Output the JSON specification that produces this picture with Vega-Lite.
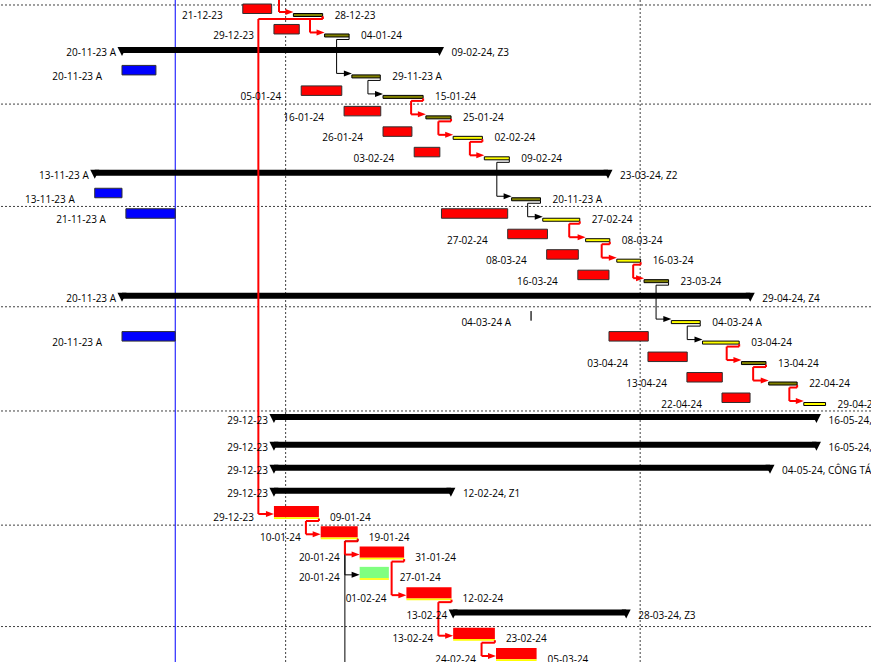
{
  "$schema": "https://vega.github.io/schema/vega-lite/v6.json",
  "width": 871,
  "height": 662,
  "padding": 0,
  "autosize": {"type": "none"},
  "background": "#ffffff",
  "config": {
    "view": {"stroke": null},
    "text": {"font": "Open Sans", "fontSize": 10, "baseline": "middle", "color": "#000000", "dy": 1.5}
  },
  "resolve": {"scale": {"color": "independent"}},
  "datasets": {
    "bl": [
      {"row": 0, "s": "2023-12-21", "e": "2023-12-28T10:00:00Z", "c": "late", "lab": "21-12-23"},
      {"row": 1, "s": "2023-12-29", "e": "2024-01-04T12:00:00Z", "c": "late", "lab": "29-12-23"},
      {"row": 3, "s": "2023-11-20", "e": "2023-11-28T17:00:00Z", "c": "actual", "lab": "20-11-23 A"},
      {"row": 4, "s": "2024-01-05", "e": "2024-01-15T10:00:00Z", "c": "late", "lab": "05-01-24"},
      {"row": 5, "s": "2024-01-16", "e": "2024-01-25T10:00:00Z", "c": "late", "lab": "16-01-24"},
      {"row": 6, "s": "2024-01-26", "e": "2024-02-02T10:00:00Z", "c": "late", "lab": "26-01-24"},
      {"row": 7, "s": "2024-02-03", "e": "2024-02-09T14:00:00Z", "c": "late", "lab": "03-02-24"},
      {"row": 9, "s": "2023-11-13", "e": "2023-11-20", "c": "actual", "lab": "13-11-23 A"},
      {"row": 10, "s": "2023-11-21", "e": "2023-12-03T16:00:00Z", "c": "actual", "lab": "21-11-23 A"},
      {"row": 10, "s": "2024-02-10", "e": "2024-02-27", "c": "late"},
      {"row": 11, "s": "2024-02-27", "e": "2024-03-08T05:00:00Z", "c": "late", "lab": "27-02-24"},
      {"row": 12, "s": "2024-03-08", "e": "2024-03-16T03:00:00Z", "c": "late", "lab": "08-03-24"},
      {"row": 13, "s": "2024-03-16", "e": "2024-03-24", "c": "late", "lab": "16-03-24"},
      {"row": 15, "s": "2024-03-04", "e": "2024-03-04", "c": "actual", "lab": "04-03-24 A"},
      {"row": 16, "s": "2023-11-20", "e": "2023-12-03T16:00:00Z", "c": "actual", "lab": "20-11-23 A"},
      {"row": 16, "s": "2024-03-24", "e": "2024-04-03T02:00:00Z", "c": "late"},
      {"row": 17, "s": "2024-04-03", "e": "2024-04-13T02:00:00Z", "c": "late", "lab": "03-04-24"},
      {"row": 18, "s": "2024-04-13", "e": "2024-04-22T02:00:00Z", "c": "late", "lab": "13-04-24"},
      {"row": 19, "s": "2024-04-22", "e": "2024-04-29T05:00:00Z", "c": "late", "lab": "22-04-24"}
    ],
    "th": [
      {"row": 0, "s": "2024-01-03", "e": "2024-01-10T12:00:00Z", "state": "started", "lab": "28-12-23"},
      {"row": 1, "s": "2024-01-11", "e": "2024-01-17T07:00:00Z", "state": "started", "lab": "04-01-24"},
      {"row": 3, "s": "2024-01-18", "e": "2024-01-25T07:00:00Z", "state": "started", "lab": "29-11-23 A"},
      {"row": 4, "s": "2024-01-26", "e": "2024-02-05T07:00:00Z", "state": "started", "lab": "15-01-24"},
      {"row": 5, "s": "2024-02-06", "e": "2024-02-12T11:00:00Z", "state": "started", "lab": "25-01-24"},
      {"row": 6, "s": "2024-02-13", "e": "2024-02-20T12:00:00Z", "state": "planned", "lab": "02-02-24"},
      {"row": 7, "s": "2024-02-21", "e": "2024-02-27T10:00:00Z", "state": "planned", "lab": "09-02-24"},
      {"row": 9, "s": "2024-02-28", "e": "2024-03-06T10:00:00Z", "state": "started", "lab": "20-11-23 A"},
      {"row": 10, "s": "2024-03-07", "e": "2024-03-16T12:00:00Z", "state": "planned", "lab": "27-02-24"},
      {"row": 11, "s": "2024-03-18", "e": "2024-03-24T05:00:00Z", "state": "planned", "lab": "08-03-24"},
      {"row": 12, "s": "2024-03-26", "e": "2024-04-01T03:00:00Z", "state": "planned", "lab": "16-03-24"},
      {"row": 13, "s": "2024-04-02", "e": "2024-04-08T07:00:00Z", "state": "started", "lab": "23-03-24"},
      {"row": 15, "s": "2024-04-09", "e": "2024-04-16T10:00:00Z", "state": "planned", "lab": "04-03-24 A"},
      {"row": 16, "s": "2024-04-17", "e": "2024-04-26T10:00:00Z", "state": "planned", "lab": "03-04-24"},
      {"row": 17, "s": "2024-04-27", "e": "2024-05-03T07:00:00Z", "state": "started", "lab": "13-04-24"},
      {"row": 18, "s": "2024-05-04", "e": "2024-05-11T07:00:00Z", "state": "started", "lab": "22-04-24"},
      {"row": 19, "s": "2024-05-13", "e": "2024-05-18T14:00:00Z", "state": "planned", "lab": "29-04-24"}
    ],
    "cb": [
      {"row": 24, "s": "2023-12-29", "e": "2024-01-09T13:00:00Z", "k": "critical", "l1": "29-12-23", "l2": "09-01-24"},
      {"row": 25, "s": "2024-01-10", "e": "2024-01-19T12:00:00Z", "k": "critical", "l1": "10-01-24", "l2": "19-01-24"},
      {"row": 26, "s": "2024-01-20", "e": "2024-01-31T10:00:00Z", "k": "critical", "l1": "20-01-24", "l2": "31-01-24"},
      {"row": 27, "s": "2024-01-20", "e": "2024-01-27T12:00:00Z", "k": "noncritical", "l1": "20-01-24", "l2": "27-01-24"},
      {"row": 28, "s": "2024-02-01", "e": "2024-02-12T14:00:00Z", "k": "critical", "l1": "01-02-24", "l2": "12-02-24"},
      {"row": 30, "s": "2024-02-13", "e": "2024-02-23T17:00:00Z", "k": "critical", "l1": "13-02-24", "l2": "23-02-24"},
      {"row": 31, "s": "2024-02-24", "e": "2024-03-05T10:00:00Z", "k": "critical", "l1": "24-02-24", "l2": "05-03-24"}
    ],
    "sm": [
      {"row": 2, "s": "2023-11-20", "e": "2024-02-09T12:00:00Z", "l1": "20-11-23 A", "l2": "09-02-24, Z3"},
      {"row": 8, "s": "2023-11-13", "e": "2024-03-23T18:00:00Z", "l1": "13-11-23 A", "l2": "23-03-24, Z2"},
      {"row": 14, "s": "2023-11-20", "e": "2024-04-29T06:00:00Z", "l1": "20-11-23 A", "l2": "29-04-24, Z4"},
      {"row": 20, "s": "2023-12-29", "e": "2024-05-16T06:00:00Z", "l1": "29-12-23", "l2": "16-05-24,"},
      {"row": 21, "s": "2023-12-29", "e": "2024-05-16T06:00:00Z", "l1": "29-12-23", "l2": "16-05-24,"},
      {"row": 22, "s": "2023-12-29", "e": "2024-05-04T08:00:00Z", "l1": "29-12-23", "l2": "04-05-24, CÔNG TÁC"},
      {"row": 23, "s": "2023-12-29", "e": "2024-02-12T10:00:00Z", "l1": "29-12-23", "l2": "12-02-24, Z1"},
      {"row": 29, "s": "2024-02-13", "e": "2024-03-28T10:00:00Z", "l1": "13-02-24", "l2": "28-03-24, Z3"}
    ],
    "lk": [
      {"pr": 1, "sr": 3, "fin": "2024-01-17T07:00:00Z", "via": "2024-01-14T02:00:00Z", "st": "2024-01-18", "k": "n"},
      {"pr": 3, "sr": 4, "fin": "2024-01-25T07:00:00Z", "via": "2024-01-22T03:00:00Z", "st": "2024-01-26", "k": "n"},
      {"pr": 7, "sr": 9, "fin": "2024-02-27T10:00:00Z", "via": "2024-02-24T05:00:00Z", "st": "2024-02-28", "k": "n"},
      {"pr": 9, "sr": 10, "fin": "2024-03-06T10:00:00Z", "via": "2024-03-03T03:00:00Z", "st": "2024-03-07", "k": "n"},
      {"pr": 13, "sr": 15, "fin": "2024-04-08T07:00:00Z", "via": "2024-04-05T02:00:00Z", "st": "2024-04-09", "k": "n"},
      {"pr": 15, "sr": 16, "fin": "2024-04-16T10:00:00Z", "via": "2024-04-13T02:00:00Z", "st": "2024-04-17", "k": "n"},
      {"pr": 25, "sr": 27, "fin": "2024-01-19T12:00:00Z", "via": "2024-01-16T05:00:00Z", "st": "2024-01-20", "k": "n"},
      {"pr": 25, "sr": 33, "fin": "2024-01-19T12:00:00Z", "via": "2024-01-16T05:00:00Z", "st": "2024-01-20", "k": "n"},
      {"pr": -1, "sr": 0, "fin": "2023-12-30T07:00:00Z", "via": "2023-12-30T07:00:00Z", "st": "2024-01-03", "k": "c"},
      {"pr": 0, "sr": 1, "fin": "2024-01-10T12:00:00Z", "via": "2024-01-07T06:00:00Z", "st": "2024-01-11", "k": "c"},
      {"pr": 0, "sr": 24, "fin": "2024-01-10T12:00:00Z", "via": "2023-12-25", "st": "2023-12-29", "k": "c"},
      {"pr": 4, "sr": 5, "fin": "2024-02-05T07:00:00Z", "via": "2024-02-02T05:00:00Z", "st": "2024-02-06", "k": "c"},
      {"pr": 5, "sr": 6, "fin": "2024-02-12T11:00:00Z", "via": "2024-02-09T05:00:00Z", "st": "2024-02-13", "k": "c"},
      {"pr": 6, "sr": 7, "fin": "2024-02-20T12:00:00Z", "via": "2024-02-17T07:00:00Z", "st": "2024-02-21", "k": "c"},
      {"pr": 10, "sr": 11, "fin": "2024-03-16T12:00:00Z", "via": "2024-03-13T19:00:00Z", "st": "2024-03-18", "k": "c"},
      {"pr": 11, "sr": 12, "fin": "2024-03-24T05:00:00Z", "via": "2024-03-22T03:00:00Z", "st": "2024-03-26", "k": "c"},
      {"pr": 12, "sr": 13, "fin": "2024-04-01T03:00:00Z", "via": "2024-03-30T05:00:00Z", "st": "2024-04-02", "k": "c"},
      {"pr": 16, "sr": 17, "fin": "2024-04-26T10:00:00Z", "via": "2024-04-23T05:00:00Z", "st": "2024-04-27", "k": "c"},
      {"pr": 17, "sr": 18, "fin": "2024-05-03T07:00:00Z", "via": "2024-04-30", "st": "2024-05-04", "k": "c"},
      {"pr": 18, "sr": 19, "fin": "2024-05-11T07:00:00Z", "via": "2024-05-09T07:00:00Z", "st": "2024-05-13", "k": "c"},
      {"pr": 24, "sr": 25, "fin": "2024-01-09T13:00:00Z", "via": "2024-01-06T05:00:00Z", "st": "2024-01-10", "k": "c"},
      {"pr": 25, "sr": 26, "fin": "2024-01-19T12:00:00Z", "via": "2024-01-16T05:00:00Z", "st": "2024-01-20", "k": "c"},
      {"pr": 26, "sr": 28, "fin": "2024-01-31T10:00:00Z", "via": "2024-01-28T05:00:00Z", "st": "2024-02-01", "k": "c"},
      {"pr": 28, "sr": 30, "fin": "2024-02-12T14:00:00Z", "via": "2024-02-09T05:00:00Z", "st": "2024-02-13", "k": "c"},
      {"pr": 30, "sr": 31, "fin": "2024-02-23T17:00:00Z", "via": "2024-02-20T07:00:00Z", "st": "2024-02-24", "k": "c"}
    ],
    "vgrid": [{"d": "2024-01-01"}, {"d": "2024-04-01"}],
    "hgrid": [{"b": -0.44}, {"b": 4.4}, {"b": 9.4}, {"b": 14.3}, {"b": 19.42}, {"b": 24.45}, {"b": 29.45}]
  },
  "layer": [
    {
      "data": {"name": "vgrid"},
      "mark": {"type": "rule", "color": "#404040", "strokeWidth": 1, "strokeDash": [2, 2]},
      "encoding": {
        "x": {"field": "d", "type": "temporal", "axis": null,
          "scale": {"type": "utc", "domain": [{"year": 2023, "month": 10, "date": 19, "hours": 16, "minutes": 28, "utc": true}, {"year": 2024, "month": 5, "date": 30, "hours": 6, "utc": true}], "nice": false}}
      }
    },
    {
      "data": {"name": "hgrid"},
      "mark": {"type": "rule", "color": "#404040", "strokeWidth": 1, "strokeDash": [2, 2]},
      "encoding": {
        "y": {"field": "b", "type": "quantitative", "axis": null,
          "scale": {"type": "linear", "domain": [0, 19, 20, 21, 23, 24, 31], "range": [14, 403, 422, 449.7, 495.7, 516, 658], "zero": false, "nice": false}}
      }
    },
    {
      "data": {"values": [{"d": "2023-12-03T16:00:00Z"}]},
      "mark": {"type": "rule", "color": "#0000FF", "strokeWidth": 1},
      "encoding": {
        "x": {"field": "d", "type": "temporal", "axis": null}
      }
    },
    {
      "data": {"name": "bl"},
      "mark": {"type": "rect", "yOffset": -10, "y2Offset": -0.5, "stroke": "#303030", "strokeWidth": 1},
      "encoding": {
        "x": {"field": "s", "type": "temporal", "axis": null},
        "x2": {"field": "e"},
        "y": {"field": "row", "type": "quantitative", "axis": null},
        "y2": {"field": "row"},
        "color": {"field": "c", "type": "nominal", "scale": {"domain": ["late", "actual"], "range": ["#FF0000", "#0000FF"]}, "legend": null}
      }
    },
    {
      "data": {"name": "sm"},
      "mark": {"type": "rect", "yOffset": -8, "y2Offset": -2, "color": "#000000"},
      "encoding": {
        "x": {"field": "s", "type": "temporal", "axis": null},
        "x2": {"field": "e"},
        "y": {"field": "row", "type": "quantitative", "axis": null},
        "y2": {"field": "row"}
      }
    },
    {
      "data": {"name": "sm"},
      "mark": {"type": "point", "shape": "M-1,-1L1,-1L0,1Z", "size": 81, "filled": true, "color": "#000000", "opacity": 1, "strokeWidth": 0, "yOffset": -3.5},
      "encoding": {
        "x": {"field": "s", "type": "temporal", "axis": null},
        "y": {"field": "row", "type": "quantitative", "axis": null}
      }
    },
    {
      "data": {"name": "sm"},
      "mark": {"type": "point", "shape": "M-1,-1L1,-1L0,1Z", "size": 81, "filled": true, "color": "#000000", "opacity": 1, "strokeWidth": 0, "yOffset": -3.5},
      "encoding": {
        "x": {"field": "e", "type": "temporal", "axis": null},
        "y": {"field": "row", "type": "quantitative", "axis": null}
      }
    },
    {
      "data": {"name": "th"},
      "mark": {"type": "rect", "yOffset": -0.5, "y2Offset": 2.5, "stroke": "#000000", "strokeWidth": 1},
      "encoding": {
        "x": {"field": "s", "type": "temporal", "axis": null},
        "x2": {"field": "e"},
        "y": {"field": "row", "type": "quantitative", "axis": null},
        "y2": {"field": "row"},
        "color": {"field": "state", "type": "nominal", "scale": {"domain": ["started", "planned"], "range": ["#808000", "#FFFF00"]}, "legend": null}
      }
    },
    {
      "data": {"name": "cb"},
      "mark": {"type": "rect", "yOffset": -10, "y2Offset": 1.3},
      "encoding": {
        "x": {"field": "s", "type": "temporal", "axis": null},
        "x2": {"field": "e"},
        "y": {"field": "row", "type": "quantitative", "axis": null},
        "y2": {"field": "row"},
        "color": {"field": "k", "type": "nominal", "scale": {"domain": ["critical", "noncritical"], "range": ["#FF0000", "#80FF80"]}, "legend": null}
      }
    },
    {
      "data": {"name": "cb"},
      "mark": {"type": "rect", "yOffset": 1.3, "y2Offset": 3, "color": "#FFFF00"},
      "encoding": {
        "x": {"field": "s", "type": "temporal", "axis": null},
        "x2": {"field": "e"},
        "y": {"field": "row", "type": "quantitative", "axis": null},
        "y2": {"field": "row"}
      }
    },
    {
      "data": {"name": "lk"},
      "mark": {"type": "rule", "yOffset": 2.5, "y2Offset": 5},
      "encoding": {
        "x": {"field": "fin", "type": "temporal", "axis": null},
        "y": {"field": "pr", "type": "quantitative", "axis": null},
        "y2": {"field": "pr"},
        "color": {"condition": {"test": "datum.k === 'c'", "value": "#FF0000"}, "value": "#000000"},
        "strokeWidth": {"condition": {"test": "datum.k === 'c'", "value": 2}, "value": 1}
      }
    },
    {
      "data": {"name": "lk"},
      "mark": {"type": "rule", "yOffset": 5},
      "encoding": {
        "x": {"field": "via", "type": "temporal", "axis": null},
        "x2": {"field": "fin"},
        "y": {"field": "pr", "type": "quantitative", "axis": null},
        "color": {"condition": {"test": "datum.k === 'c'", "value": "#FF0000"}, "value": "#000000"},
        "strokeWidth": {"condition": {"test": "datum.k === 'c'", "value": 2}, "value": 1}
      }
    },
    {
      "data": {"name": "lk"},
      "mark": {"type": "rule", "yOffset": 5, "y2Offset": -2},
      "encoding": {
        "x": {"field": "via", "type": "temporal", "axis": null},
        "y": {"field": "pr", "type": "quantitative", "axis": null},
        "y2": {"field": "sr"},
        "color": {"condition": {"test": "datum.k === 'c'", "value": "#FF0000"}, "value": "#000000"},
        "strokeWidth": {"condition": {"test": "datum.k === 'c'", "value": 2}, "value": 1}
      }
    },
    {
      "data": {"name": "lk"},
      "mark": {"type": "rule", "yOffset": -2, "x2Offset": -7},
      "encoding": {
        "x": {"field": "via", "type": "temporal", "axis": null},
        "x2": {"field": "st"},
        "y": {"field": "sr", "type": "quantitative", "axis": null},
        "color": {"condition": {"test": "datum.k === 'c'", "value": "#FF0000"}, "value": "#000000"},
        "strokeWidth": {"condition": {"test": "datum.k === 'c'", "value": 2}, "value": 1}
      }
    },
    {
      "data": {"name": "lk"},
      "mark": {"type": "point", "shape": "M-1,-0.75L1,0L-1,0.75Z", "size": 64, "filled": true, "opacity": 1, "strokeWidth": 0, "xOffset": -4, "yOffset": -2},
      "encoding": {
        "x": {"field": "st", "type": "temporal", "axis": null},
        "y": {"field": "sr", "type": "quantitative", "axis": null},
        "color": {"condition": {"test": "datum.k === 'c'", "value": "#FF0000"}, "value": "#000000"}
      }
    },
    {
      "data": {"name": "bl"},
      "transform": [{"filter": "datum.lab"}],
      "mark": {"type": "text", "align": "right", "dx": -20, "clip": true},
      "encoding": {
        "x": {"field": "s", "type": "temporal", "axis": null},
        "y": {"field": "row", "type": "quantitative", "axis": null},
        "text": {"field": "lab"}
      }
    },
    {
      "data": {"name": "th"},
      "mark": {"type": "text", "align": "left", "dx": 12, "clip": true},
      "encoding": {
        "x": {"field": "e", "type": "temporal", "axis": null},
        "y": {"field": "row", "type": "quantitative", "axis": null},
        "text": {"field": "lab"}
      }
    },
    {
      "data": {"name": "cb"},
      "mark": {"type": "text", "align": "right", "dx": -20, "clip": true},
      "encoding": {
        "x": {"field": "s", "type": "temporal", "axis": null},
        "y": {"field": "row", "type": "quantitative", "axis": null},
        "text": {"field": "l1"}
      }
    },
    {
      "data": {"name": "cb"},
      "mark": {"type": "text", "align": "left", "dx": 11, "clip": true},
      "encoding": {
        "x": {"field": "e", "type": "temporal", "axis": null},
        "y": {"field": "row", "type": "quantitative", "axis": null},
        "text": {"field": "l2"}
      }
    },
    {
      "data": {"name": "sm"},
      "mark": {"type": "text", "align": "right", "dx": -6, "dy": -1.5, "clip": true},
      "encoding": {
        "x": {"field": "s", "type": "temporal", "axis": null},
        "y": {"field": "row", "type": "quantitative", "axis": null},
        "text": {"field": "l1"}
      }
    },
    {
      "data": {"name": "sm"},
      "mark": {"type": "text", "align": "left", "dx": 12, "dy": -1.5, "clip": true},
      "encoding": {
        "x": {"field": "e", "type": "temporal", "axis": null},
        "y": {"field": "row", "type": "quantitative", "axis": null},
        "text": {"field": "l2"}
      }
    },
    {
      "data": {"values": [{"d": "2024-05-30T06:00:00Z"}]},
      "mark": {"type": "rule", "color": "#808080", "strokeWidth": 2, "xOffset": 1},
      "encoding": {
        "x": {"field": "d", "type": "temporal", "axis": null}
      }
    }
  ]
}
